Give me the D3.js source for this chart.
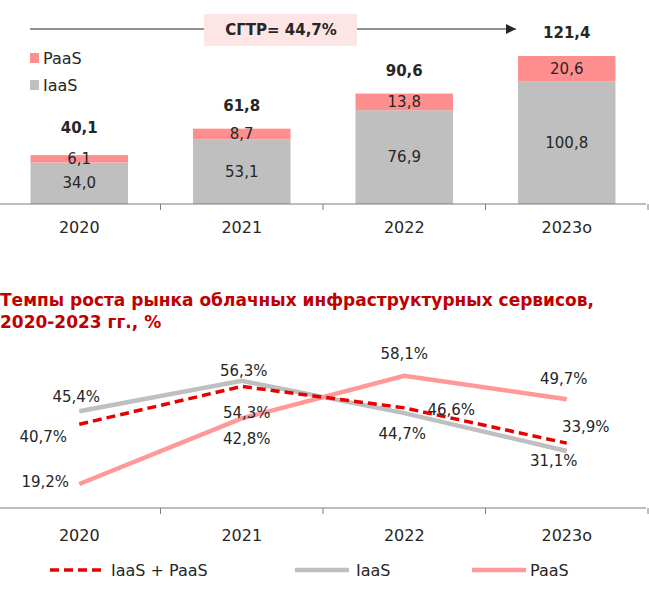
<!DOCTYPE html>
<html><head><meta charset="utf-8">
<script src="https://cdn.jsdelivr.net/npm/d3@7"></script>
<style>body{margin:0;background:#fff}svg{display:block}text{font-family:"DejaVu Sans",sans-serif;}</style>
</head><body><svg id="c" width="649" height="593"></svg>
<script>
const categories = ["2020","2021","2022","2023о"];
const iaas = [34.0, 53.1, 76.9, 100.8];
const paas = [6.1, 8.7, 13.8, 20.6];
const totals = [40.1, 61.8, 90.6, 121.4];
const cagrLabel = "СГТР= 44,7%";
const growthTotal = [40.7, 54.3, 46.6, 33.9];
const growthIaas = [45.4, 56.3, 44.7, 31.1];
const growthPaas = [19.2, 42.8, 58.1, 49.7];
const lineTitle = ["Темпы роста рынка облачных инфраструктурных сервисов,", "2020-2023 гг., %"];

const fmt = v => v.toFixed(1).replace(".", ",");
const svg = d3.select("#c");
const txt = "#262626";
const cPaas = "#ff8f8f", cIaas = "#bfbfbf";

const x = d3.scaleBand().domain(categories).range([-2, 648]).paddingInner(0.4).paddingOuter(0.2);
const bw = x.bandwidth();
const yb = d3.scaleLinear().domain([0, 121.4]).range([204, 56]);

// bars
const g = svg.append("g");
categories.forEach((c, i) => {
  g.append("rect").attr("x", x(c)).attr("width", bw).attr("y", yb(iaas[i])).attr("height", yb(0) - yb(iaas[i])).attr("fill", cIaas);
  g.append("rect").attr("x", x(c)).attr("width", bw).attr("y", yb(totals[i])).attr("height", yb(iaas[i]) - yb(totals[i])).attr("fill", cPaas);
  const cx = x(c) + bw / 2;
  g.append("text").attr("x", cx).attr("y", (yb(0) + yb(iaas[i])) / 2 + 5).attr("text-anchor", "middle").attr("font-size", 15).attr("fill", txt).text(fmt(iaas[i]));
  g.append("text").attr("x", cx).attr("y", (yb(iaas[i]) + yb(totals[i])) / 2 + 5).attr("text-anchor", "middle").attr("font-size", 15).attr("fill", txt).text(fmt(paas[i]));
  g.append("text").attr("x", cx).attr("y", yb(totals[i]) - (i === 0 ? 22 : 18)).attr("text-anchor", "middle").attr("font-size", 15).attr("font-weight", "bold").attr("fill", txt).text(fmt(totals[i]));
});

function catAxis(yPos, labelY) {
  const step = x.step();
  const ax = svg.append("g");
  ax.append("line").attr("x1", 0).attr("x2", 646).attr("y1", yPos).attr("y2", yPos).attr("stroke", "#7f7f7f").attr("stroke-width", 1);
  categories.forEach((c, i) => {
    const bx = x(c) + bw / 2 + step / 2;
    ax.append("line").attr("x1", bx).attr("x2", bx).attr("y1", yPos).attr("y2", yPos + 6).attr("stroke", "#7f7f7f");
    ax.append("text").attr("x", x(c) + bw / 2).attr("y", labelY).attr("text-anchor", "middle").attr("font-size", 16).attr("fill", txt).text(c);
  });
}
catAxis(204, 233);

// legend top
[["PaaS", cPaas, 58], ["IaaS", cIaas, 85]].forEach(([n, col, yy]) => {
  svg.append("rect").attr("x", 30).attr("y", yy - 5).attr("width", 9).attr("height", 10).attr("fill", col);
  svg.append("text").attr("x", 43).attr("y", yy + 6).attr("font-size", 16).attr("fill", txt).text(n);
});

// CAGR arrow
svg.append("defs").append("marker").attr("id", "ah").attr("viewBox", "0 0 10 10").attr("refX", 10).attr("refY", 5)
  .attr("markerWidth", 10).attr("markerHeight", 10).attr("markerUnits", "userSpaceOnUse").attr("orient", "auto")
  .append("path").attr("d", "M0,0L10,5L0,10Z").attr("fill", "#262626");
svg.append("line").attr("x1", 30).attr("x2", 516).attr("y1", 29).attr("y2", 29).attr("stroke", "#262626").attr("stroke-width", 1.2).attr("marker-end", "url(#ah)");
svg.append("rect").attr("x", 204).attr("y", 14).attr("width", 153).attr("height", 32).attr("fill", "#fde5e5");
svg.append("text").attr("x", 281).attr("y", 35).attr("text-anchor", "middle").attr("font-size", 15).attr("font-weight", "bold").attr("fill", txt).text(cagrLabel);

// line chart title
svg.append("text").attr("x", 0).attr("y", 306).attr("font-size", 17).attr("font-weight", "bold").attr("fill", "#c00000")
  .selectAll("tspan").data(lineTitle).join("tspan").attr("x", 0).attr("dy", (d, i) => i ? 22 : 0).text(d => d);

const yl = d3.scaleLinear().domain([0, 60]).range([537.4, 370.6]);
const cx = c => x(c) + bw / 2;
const line = d3.line().x((d, i) => cx(categories[i])).y(d => yl(d));

svg.append("path").datum(growthIaas).attr("d", line).attr("fill", "none").attr("stroke", cIaas).attr("stroke-width", 4.5);
svg.append("path").datum(growthPaas).attr("d", line).attr("fill", "none").attr("stroke", "#ff9999").attr("stroke-width", 4.5);
svg.append("path").datum(growthTotal).attr("d", line).attr("fill", "none").attr("stroke", "#e60000").attr("stroke-width", 3.5).attr("stroke-dasharray", "9,5");

catAxis(508, 541);

// line labels [series, index, dx, dy]
const lab = [
  [growthIaas, 0, -3, -11], [growthTotal, 0, -36, 16], [growthPaas, 0, -34, 1],
  [growthIaas, 1, 2, -7], [growthTotal, 1, 5, 30], [growthPaas, 1, 5, 24],
  [growthPaas, 2, 0, -19], [growthTotal, 2, 47, 5], [growthIaas, 2, -2, 24],
  [growthPaas, 3, -3, -17], [growthTotal, 3, 19, -13], [growthIaas, 3, -13, 13]
];
lab.forEach(([s, i, dx, dy]) => {
  svg.append("text").attr("x", cx(categories[i]) + dx).attr("y", yl(s[i]) + dy + 2).attr("text-anchor", "middle")
    .attr("font-size", 15).attr("fill", txt).text(fmt(s[i]) + "%");
});

// legend bottom
const lg = [["IaaS + PaaS", "#e60000", 50, 111, "9,5", 3.5], ["IaaS", cIaas, 295, 356, null, 4.5], ["PaaS", "#ff9999", 472, 530, null, 4.5]];
lg.forEach(([n, col, x1, tx, dash, sw]) => {
  svg.append("line").attr("x1", x1).attr("x2", x1 + 54).attr("y1", 570).attr("y2", 570).attr("stroke", col).attr("stroke-width", sw).attr("stroke-dasharray", dash);
  svg.append("text").attr("x", tx).attr("y", 576).attr("font-size", 16).attr("fill", txt).text(n);
});
</script></body></html>
